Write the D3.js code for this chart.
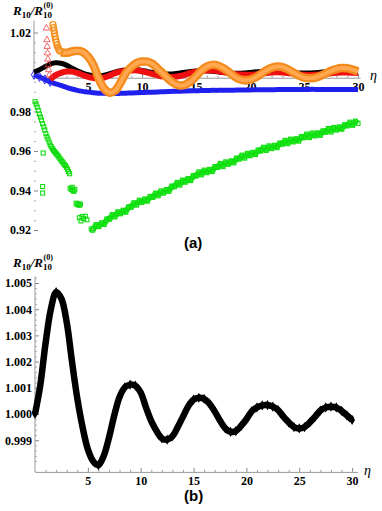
<!DOCTYPE html>
<html>
<head>
<meta charset="utf-8">
<script src="https://cdn.jsdelivr.net/npm/d3@7"></script>
<style>
  body { margin: 0; background: #fff; }
  .tick text { font-family: "Liberation Serif", "Times New Roman", serif; font-weight: bold; font-size: 12px; fill: #000; }
</style>
</head>
<body>
<script>
(function drawChart() {

// sampling grid of eta (step 0.5) shared by the smooth series
var etaGrid = d3.range(0, 30.01, 0.5);

// black series: same curve in (a) and zoomed in (b)
var blackVals = [1.0000, 1.0011, 1.0027, 1.0040, 1.00465, 1.0044, 1.0035, 1.0020, 1.0006, 0.99950,
  0.99865, 0.99820, 0.99805, 0.99840, 0.99910, 0.99995, 1.00065, 1.00102, 1.00112, 1.00108,
  1.00082, 1.00025, 0.99973, 0.99935, 0.99907, 0.99902, 0.99915, 0.99950, 0.99990, 1.00030,
  1.00055, 1.00062, 1.00058, 1.00040, 1.00010, 0.99975, 0.99945, 0.99932, 0.99935, 0.99955,
  0.99980, 1.00010, 1.00025, 1.00033, 1.00034, 1.00028, 1.00015, 0.99990, 0.99968, 0.99950,
  0.99945, 0.99950, 0.99968, 0.99990, 1.00013, 1.00025, 1.00028, 1.00025, 1.00012, 0.99995, 0.99977];

var blueVals = [0.9986, 0.9975, 0.9962, 0.9950, 0.9940, 0.9932, 0.9922, 0.9914, 0.9907, 0.9902,
  0.9898, 0.9895, 0.9893, 0.9892, 0.9891, 0.9891, 0.9892, 0.9893, 0.9894, 0.9895,
  0.9896, 0.9897, 0.9898, 0.9899, 0.9900, 0.9901, 0.9902, 0.9903, 0.9904, 0.9905,
  0.9905, 0.9906, 0.9906, 0.9907, 0.9907, 0.9908, 0.9908, 0.9908, 0.9909, 0.9909,
  0.9909, 0.9910, 0.9910, 0.9910, 0.9910, 0.9911, 0.9911, 0.9911, 0.9911, 0.9911,
  0.9911, 0.9912, 0.9912, 0.9912, 0.9912, 0.9912, 0.9912, 0.9912, 0.9912, 0.9912, 0.9912];

var redVals = [null, null, null, 0.9962, 0.9984, 0.9996, 1.0002, 1.0002, 0.9995, 0.9985,
  0.9975, 0.9969, 0.9968, 0.9972, 0.9982, 0.9994, 1.0002, 1.0006, 1.0008, 1.0008,
  1.0004, 0.9997, 0.9989, 0.9982, 0.9977, 0.9975, 0.9976, 0.9980, 0.9987, 0.9995,
  1.0001, 1.0005, 1.0007, 1.0007, 1.0005, 1.0000, 0.9995, 0.9990, 0.9987, 0.9986,
  0.9986, 0.9988, 0.9991, 0.9995, 0.9998, 0.9999, 0.9998, 0.9995, 0.9991, 0.9988,
  0.9986, 0.9985, 0.9986, 0.9988, 0.9991, 0.9994, 0.9996, 0.9997, 0.9997, 0.9996, 0.9995];

// red triangles falling in at the start
var redHead = [[1.15, 1.0222], [1.20, 1.0163], [1.22, 1.0129], [1.25, 1.0096], [1.28, 1.0065],
  [1.32, 1.0036], [1.36, 1.0011], [1.42, 0.9985]];

var orangeVals = [null, null, null, null, null, 1.0100, 1.0097, 1.0104, 1.0108, 1.0102,
  1.0078, 1.0035, 0.9965, 0.9915, 0.9895, 0.9905, 0.9945, 0.9995, 1.0025, 1.0045,
  1.0053, 1.0052, 1.0040, 1.0015, 0.9990, 0.9962, 0.9942, 0.9932, 0.9935, 0.9952,
  0.9978, 1.0008, 1.0028, 1.0036, 1.0033, 1.0020, 1.0002, 0.9980, 0.9964, 0.9958,
  0.9961, 0.9972, 0.9990, 1.0008, 1.0022, 1.0028, 1.0025, 1.0014, 0.9998, 0.9982,
  0.9971, 0.9968, 0.9971, 0.9980, 0.9993, 1.0006, 1.0015, 1.0020, 1.0019, 1.0012, 1.0003];

var orangeHead = [[1.75, 1.0240], [1.80, 1.0225], [1.85, 1.0210], [1.90, 1.0195], [1.95, 1.0180],
  [2.00, 1.0165], [2.07, 1.0150], [2.14, 1.0136], [2.22, 1.0124], [2.30, 1.0114], [2.40, 1.0106]];

// green squares: scattered points
var greenEarly = [[0.10, 0.9850], [0.20, 0.9838], [0.30, 0.9822], [0.40, 0.9806], [0.50, 0.9787],
  [0.60, 0.9772], [0.70, 0.9756], [0.80, 0.9738], [0.90, 0.9722], [1.00, 0.9706], [1.10, 0.9688],
  [1.20, 0.9672], [1.30, 0.9660], [1.40, 0.9645], [1.50, 0.9631], [1.60, 0.9622], [1.70, 0.9612],
  [1.80, 0.9604], [1.90, 0.9597], [2.00, 0.9590], [2.10, 0.9584], [2.20, 0.9577], [2.30, 0.9570],
  [2.40, 0.9562], [2.50, 0.9554], [2.60, 0.9547], [2.70, 0.9540], [2.80, 0.9532], [2.90, 0.9526],
  [3.00, 0.9518], [3.10, 0.9507], [3.20, 0.9495], [3.30, 0.9485],
  [0.85, 0.9590], [0.80, 0.9420], [0.80, 0.9387],
  [3.35, 0.9412], [3.45, 0.9405], [3.55, 0.9416], [3.60, 0.9400], [3.70, 0.9396], [3.78, 0.9406],
  [3.90, 0.9336], [4.00, 0.9328], [4.10, 0.9333], [4.20, 0.9325], [4.30, 0.9331],
  [4.20, 0.9262], [4.35, 0.9246], [4.45, 0.9268], [4.60, 0.9258], [4.75, 0.9270], [4.90, 0.9252],
  [5.30, 0.9205], [5.42, 0.9199]];

var greenRise = [[5.50, 0.9207], [5.75, 0.9227], [6.00, 0.9217], [6.25, 0.9236], [6.50, 0.9228],
  [6.75, 0.9256], [7.00, 0.9255], [7.25, 0.9278], [7.50, 0.9266], [7.75, 0.9292], [8.00, 0.9282],
  [8.25, 0.9300], [8.50, 0.9290], [8.75, 0.9317], [9.00, 0.9315], [9.25, 0.9338], [9.50, 0.9326],
  [9.75, 0.9351], [10.00, 0.9340], [10.25, 0.9357], [10.50, 0.9346], [10.75, 0.9370], [11.00, 0.9365],
  [11.25, 0.9387], [11.50, 0.9373], [11.75, 0.9398], [12.00, 0.9387], [12.25, 0.9405], [12.50, 0.9396],
  [12.75, 0.9422], [13.00, 0.9419], [13.25, 0.9441], [13.50, 0.9427], [13.75, 0.9453], [14.00, 0.9442],
  [14.25, 0.9460], [14.50, 0.9450], [14.75, 0.9476], [15.00, 0.9473], [15.25, 0.9494], [15.50, 0.9479],
  [15.75, 0.9503], [16.00, 0.9490], [16.25, 0.9507], [16.50, 0.9496], [16.75, 0.9521], [17.00, 0.9517],
  [17.25, 0.9537], [17.50, 0.9521], [17.75, 0.9545], [18.00, 0.9533], [18.25, 0.9550], [18.50, 0.9540],
  [18.75, 0.9564], [19.00, 0.9559], [19.25, 0.9579], [19.50, 0.9564], [19.75, 0.9588], [20.00, 0.9576],
  [20.25, 0.9593], [20.50, 0.9582], [20.75, 0.9605], [21.00, 0.9600], [21.25, 0.9619], [21.50, 0.9603],
  [21.75, 0.9626], [22.00, 0.9612], [22.25, 0.9629], [22.50, 0.9617], [22.75, 0.9640], [23.00, 0.9635],
  [23.25, 0.9654], [23.50, 0.9637], [23.75, 0.9660], [24.00, 0.9646], [24.25, 0.9662], [24.50, 0.9650],
  [24.75, 0.9673], [25.00, 0.9667], [25.25, 0.9686], [25.50, 0.9668], [25.75, 0.9691], [26.00, 0.9676],
  [26.25, 0.9692], [26.50, 0.9679], [26.75, 0.9702], [27.00, 0.9695], [27.25, 0.9714], [27.50, 0.9696],
  [27.75, 0.9719], [28.00, 0.9706], [28.25, 0.9722], [28.50, 0.9710], [28.75, 0.9733], [29.00, 0.9727],
  [29.25, 0.9746], [29.50, 0.9730], [29.75, 0.9751], [30.00, 0.9740]];

var xTicks = [5, 10, 15, 20, 25, 30];
var yTicksA = [0.92, 0.94, 0.96, 0.98, 1.02];
var yTicksB = [0.999, 1.000, 1.001, 1.002, 1.003, 1.004, 1.005];
var crossA = 0.9971;   // where the eta axis crosses in (a)
var crossB = 0.99779;  // and in (b)

var svg = d3.select("body").append("svg")
  .attr("width", 382)
  .attr("height", 511);

var xA = d3.scaleLinear().domain([0, 30.2]).range([34, 360.2]);
var yA = d3.scaleLinear().domain([0.92, 1.02]).range([230, 32.5]);
var xB = d3.scaleLinear().domain([0, 30.5]).range([35, 357.4]);
var yB = d3.scaleLinear().domain([1.000, 1.005]).range([414, 283]);

function pairs(vals) {
  return etaGrid.map(function(e, i) { return [e, vals[i]]; })
    .filter(function(d) { return d[1] !== null; });
}

function drawAxes(g, x, y, cross, yTicks, yFmt, yMinor, yTop) {
  var minorX = d3.range(1, 31).filter(function(d) { return d % 5 !== 0; });
  var yPos = y(cross);
  g.append("g")
    .attr("transform", "translate(0," + yPos + ")")
    .call(d3.axisBottom(x).tickValues(minorX).tickSizeInner(-2).tickSizeOuter(0).tickFormat(""))
    .call(function(s) { s.select(".domain").remove(); s.selectAll("line").attr("stroke", "#999"); });
  g.append("g")
    .attr("transform", "translate(0," + yPos + ")")
    .call(d3.axisBottom(x).tickValues(xTicks).tickSizeInner(-4).tickSizeOuter(0).tickPadding(5).tickFormat(d3.format("d")))
    .call(function(s) { s.select(".domain").attr("stroke", "#999"); s.selectAll("line").attr("stroke", "#888"); });

  var yAxisG = g.append("g").attr("transform", "translate(" + x(0) + ",0)");
  yAxisG.append("line")
    .attr("x1", 0).attr("x2", 0)
    .attr("y1", y(yTop)).attr("y2", yPos)
    .attr("stroke", "#999");
  yAxisG.append("g")
    .call(d3.axisLeft(y).tickValues(yMinor).tickSizeInner(-2).tickSizeOuter(0).tickFormat(""))
    .call(function(s) { s.select(".domain").remove(); s.selectAll("line").attr("stroke", "#aaa"); });
  yAxisG.append("g")
    .call(d3.axisLeft(y).tickValues(yTicks).tickSizeInner(-4).tickSizeOuter(0).tickPadding(3).tickFormat(d3.format(yFmt)))
    .call(function(s) { s.select(".domain").remove(); s.selectAll("line").attr("stroke", "#888"); });
}

function yLabel(yBase) {
  var t = svg.append("text")
    .attr("x", 13).attr("y", yBase)
    .style("font-family", "'Liberation Serif', serif")
    .style("font-weight", "bold")
    .style("font-style", "italic")
    .style("font-size", "13px");
  t.append("tspan").text("R");
  t.append("tspan").attr("dy", 2.5).style("font-size", "9px").style("font-style", "normal").text("10");
  t.append("tspan").attr("dy", -2.5).text("/R");
  t.append("tspan").attr("dy", 2.5).style("font-size", "9px").style("font-style", "normal").text("10");
  svg.append("text")
    .attr("x", 43.5).attr("y", yBase - 7)
    .style("font-family", "'Liberation Serif', serif")
    .style("font-weight", "bold")
    .style("font-size", "8px")
    .text("(0)");
}

function etaLabel(x0, y0) {
  svg.append("text")
    .attr("x", x0).attr("y", y0)
    .style("font-family", "'Liberation Serif', serif")
    .style("font-style", "italic")
    .style("font-size", "14px")
    .text("η");
}

// ---------- panel (a) ----------
var gA = svg.append("g");
drawAxes(gA, xA, yA, crossA, yTicksA, ".2f",
  d3.range(0.925, 1.021, 0.005).filter(function(d) { return Math.abs((d * 100) % 2) > 0.1; }), 1.026);

var lineA = d3.line()
  .x(function(d) { return xA(d[0]); })
  .y(function(d) { return yA(d[1]); })
  .curve(d3.curveCatmullRom);

var bandA = d3.line()
  .x(function(d) { return xA(d[0]); })
  .y(function(d) { return yA(d[1]); })
  .curve(d3.curveBasis);

// green: band + hollow squares
gA.append("path")
  .datum(greenRise)
  .attr("d", bandA)
  .attr("fill", "none")
  .attr("stroke", "#1fea1f")
  .attr("stroke-width", 6);
gA.selectAll("rect.green")
  .data(greenEarly.concat(greenRise))
  .enter()
  .append("rect")
  .attr("class", "green")
  .attr("x", function(d) { return xA(d[0]) - 2; })
  .attr("y", function(d) { return yA(d[1]) - 2; })
  .attr("width", 4)
  .attr("height", 4)
  .attr("fill", "none")
  .attr("stroke", "#10dd10")
  .attr("stroke-width", 1.1);

// blue diamonds
gA.append("path")
  .datum(pairs(blueVals))
  .attr("d", lineA)
  .attr("fill", "none")
  .attr("stroke", "#2020ee")
  .attr("stroke-width", 5);
gA.selectAll("path.blue")
  .data(pairs(blueVals).slice(0, 4))
  .enter()
  .append("path")
  .attr("class", "blue")
  .attr("transform", function(d) { return "translate(" + xA(d[0]) + "," + yA(d[1]) + ")"; })
  .attr("d", d3.symbol().type(d3.symbolDiamond).size(24))
  .attr("fill", "none")
  .attr("stroke", "#3030ee");

// black
gA.append("path")
  .datum(pairs(blackVals))
  .attr("d", lineA)
  .attr("fill", "none")
  .attr("stroke", "#000")
  .attr("stroke-width", 5);

// red
gA.append("path")
  .datum(pairs(redVals))
  .attr("d", lineA)
  .attr("fill", "none")
  .attr("stroke", "#ee1010")
  .attr("stroke-width", 6);
gA.selectAll("path.tri")
  .data(redHead)
  .enter()
  .append("path")
  .attr("class", "tri")
  .attr("transform", function(d) { return "translate(" + xA(d[0]) + "," + yA(d[1]) + ")"; })
  .attr("d", d3.symbol().type(d3.symbolTriangle).size(18))
  .attr("fill", "none")
  .attr("stroke", "#f04040")
  .attr("stroke-width", 0.8);

// orange circles
var orangePts = pairs(orangeVals);
gA.append("path")
  .datum(orangePts)
  .attr("d", lineA)
  .attr("fill", "none")
  .attr("stroke", "#f58a1c")
  .attr("stroke-width", 8.5);
gA.append("path")
  .datum(orangePts)
  .attr("d", lineA)
  .attr("fill", "none")
  .attr("stroke", "#ffa850")
  .attr("stroke-width", 4);
gA.selectAll("circle.orange")
  .data(orangeHead)
  .enter()
  .append("circle")
  .attr("class", "orange")
  .attr("cx", function(d) { return xA(d[0]); })
  .attr("cy", function(d) { return yA(d[1]); })
  .attr("r", 3)
  .attr("fill", "none")
  .attr("stroke", "#f5901e")
  .attr("stroke-width", 1.3);

yLabel(15);
etaLabel(370, 80);

svg.append("text")
  .attr("x", 184).attr("y", 248)
  .style("font-family", "'Liberation Sans', Arial, sans-serif")
  .style("font-weight", "bold")
  .style("font-size", "15px")
  .text("(a)");

// ---------- panel (b) ----------
var gB = svg.append("g");
drawAxes(gB, xB, yB, crossB, yTicksB, ".3f",
  d3.range(0.9978, 1.0052, 0.0002).filter(function(d) { return Math.abs(Math.round(d * 10000) % 10) > 0.5; }), 1.00525);

var lineB = d3.line()
  .x(function(d) { return xB(d[0]); })
  .y(function(d) { return yB(d[1]); })
  .curve(d3.curveCatmullRom);

gB.append("path")
  .datum(pairs(blackVals))
  .attr("d", lineB)
  .attr("fill", "none")
  .attr("stroke", "#000")
  .attr("stroke-width", 6.5);
gB.selectAll("path.dia")
  .data(pairs(blackVals))
  .enter()
  .append("path")
  .attr("class", "dia")
  .attr("transform", function(d) { return "translate(" + xB(d[0]) + "," + yB(d[1]) + ")"; })
  .attr("d", d3.symbol().type(d3.symbolDiamond).size(30))
  .attr("fill", "#000");

yLabel(267);
etaLabel(364, 475);

svg.append("text")
  .attr("x", 184).attr("y", 501)
  .style("font-family", "'Liberation Sans', Arial, sans-serif")
  .style("font-weight", "bold")
  .style("font-size", "15px")
  .text("(b)");

})();
</script>
</body>
</html>
